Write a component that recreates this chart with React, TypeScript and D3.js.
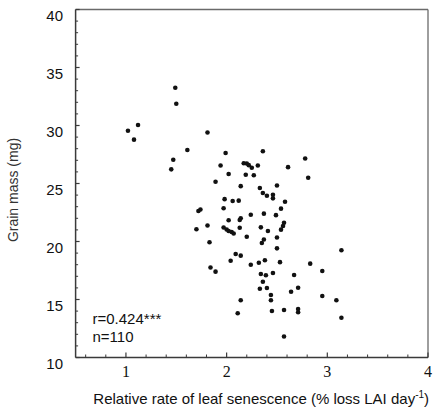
import React from "react";
import * as d3 from "d3";

// Relative rate of leaf senescence (% loss LAI per day)
const senescence: number[] = [
  1.49, 1.5, 1.12, 1.02, 1.08, 1.81, 1.61, 1.47, 1.45, 1.94, 1.99, 1.89, 1.98, 1.72, 1.74,
  2.36, 2.78, 2.17, 2.2, 2.22, 2.25, 2.31, 2.61, 2.81, 2.02, 2.19, 2.27, 2.14, 2.33, 2.5,
  2.36, 2.4, 2.46, 2.46, 2.06, 2.12, 2.58, 1.97, 2.54, 2.24, 2.37, 2.49, 2.14, 2.13, 2.02,
  1.7, 1.81, 1.97, 2.0, 2.02, 2.05, 2.07, 2.13, 2.34, 2.41, 2.57, 2.56, 2.54, 2.2, 2.37,
  2.35, 2.5, 1.83, 2.5, 2.09, 2.14, 2.04, 2.24, 2.32, 2.38, 2.53, 1.84, 1.89, 2.34, 2.39,
  2.46, 2.67, 2.36, 2.33, 2.4, 2.71, 2.64, 2.44, 2.44, 2.14, 2.11, 2.45, 2.57, 2.71, 2.71,
  2.57, 3.14, 2.83, 2.95, 2.95, 3.09, 3.14,
];

// Grain mass (mg)
const grainMass: number[] = [
  33.26, 31.88, 30.04, 29.55, 28.78, 29.4, 27.89, 27.05, 26.22, 26.55, 27.63, 25.15, 23.65, 22.63, 22.76,
  27.78, 27.16, 26.74, 26.72, 26.58, 26.36, 26.55, 26.41, 25.5, 25.82, 25.75, 25.71, 24.77, 24.61, 24.83,
  24.18, 23.95, 24.03, 23.72, 23.49, 23.52, 23.43, 22.86, 22.83, 22.31, 22.4, 22.27, 22.0, 21.85, 21.83,
  21.06, 21.38, 21.21, 21.03, 20.91, 20.82, 20.69, 21.19, 21.22, 20.91, 21.62, 21.34, 21.02, 20.41, 20.17,
  19.87, 20.34, 19.93, 19.41, 18.92, 18.78, 18.34, 18.0, 18.17, 18.38, 18.22, 17.76, 17.4, 17.2, 17.09,
  17.28, 17.11, 16.53, 15.93, 15.99, 16.01, 15.67, 15.39, 14.94, 14.93, 13.81, 14.01, 14.09, 14.18, 13.9,
  11.81, 19.24, 18.09, 17.46, 15.3, 14.93, 13.43,
];

const xTicks: number[] = [1, 2, 3, 4];
const yTicks: number[] = [10, 15, 20, 25, 30, 35, 40];
const statLines: string[] = ["r=0.424***", "n=110"];

const W = 433;
const H = 407;
const left = 75.6;
const right = 428;
const top = 9.5;
const bottom = 357.5;

const sans = "'Liberation Sans', Arial, sans-serif";
const serif = "'Liberation Serif', 'Times New Roman', serif";

export default function App() {
  const x = d3.scaleLinear().domain([0.5, 4]).range([left, right]);
  const y = d3.scaleLinear().domain([10, 40]).range([bottom, top]);

  const xMinor = d3.range(6, 40, 2).map((v) => v / 10).filter((v) => !xTicks.includes(v));
  const yMinor = d3.range(11, 40).filter((v) => v % 5 !== 0);

  const axisColor = "#3a3a3a";

  return (
    <svg
      width={W}
      height={H}
      style={{ position: "absolute", left: 0, top: 0, background: "#fff" }}
    >
      {/* frame: top and right */}
      <line x1={x(0.5)} x2={x(4)} y1={y(40)} y2={y(40)} stroke="#6a6a6a" strokeWidth={1.3} />
      <line x1={x(4)} x2={x(4)} y1={y(40)} y2={y(10)} stroke="#6a6a6a" strokeWidth={1.3} />
      {/* axes */}
      <line x1={x(0.5)} x2={x(0.5)} y1={y(40)} y2={y(10)} stroke={axisColor} strokeWidth={1.5} />
      <line x1={x(0.5)} x2={x(4)} y1={y(10)} y2={y(10)} stroke={axisColor} strokeWidth={1.5} />

      {/* y ticks */}
      {yMinor.map((v) => (
        <line key={"ym" + v} x1={x(0.5)} x2={x(0.5) + 2.5} y1={y(v)} y2={y(v)} stroke={axisColor} strokeWidth={1} />
      ))}
      {yTicks.map((v) => (
        <g key={"y" + v}>
          <line x1={x(0.5)} x2={x(0.5) + 4} y1={y(v)} y2={y(v)} stroke={axisColor} strokeWidth={1.2} />
          <text
            x={63}
            y={y(v) + 11}
            textAnchor="end"
            fontFamily={sans}
            fontSize={15}
            fill="#111"
          >
            {v}
          </text>
        </g>
      ))}

      {/* x ticks */}
      {xMinor.map((v) => (
        <line key={"xm" + v} x1={x(v)} x2={x(v)} y1={y(10)} y2={y(10) - 3} stroke={axisColor} strokeWidth={1} />
      ))}
      {xTicks.map((v) => (
        <g key={"x" + v}>
          <line x1={x(v)} x2={x(v)} y1={y(10)} y2={y(10) - 5} stroke={axisColor} strokeWidth={1.2} />
          <text x={x(v)} y={377} textAnchor="middle" fontFamily={serif} fontSize={16} fill="#111">
            {v}
          </text>
        </g>
      ))}

      {/* points */}
      {senescence.map((s, i) => (
        <circle key={i} cx={x(s)} cy={y(grainMass[i])} r={2.3} fill="#111" />
      ))}

      {/* statistics */}
      {statLines.map((t, i) => (
        <text key={t} x={92.5} y={323.5 + i * 18.2} fontFamily={sans} fontSize={15} fill="#111">
          {t}
        </text>
      ))}

      {/* axis titles */}
      <text
        transform={`translate(17.5, 190) rotate(-90)`}
        textAnchor="middle"
        fontFamily={sans}
        fontSize={14}
        fill="#333"
      >
        Grain mass (mg)
      </text>
      <text x={93.3} y={404} fontFamily={sans} fontSize={15} fill="#111">
        Relative rate of leaf senescence (% loss LAI day
        <tspan fontSize={10} dy={-6}>-1</tspan>
        <tspan dy={6}>)</tspan>
      </text>
    </svg>
  );
}
